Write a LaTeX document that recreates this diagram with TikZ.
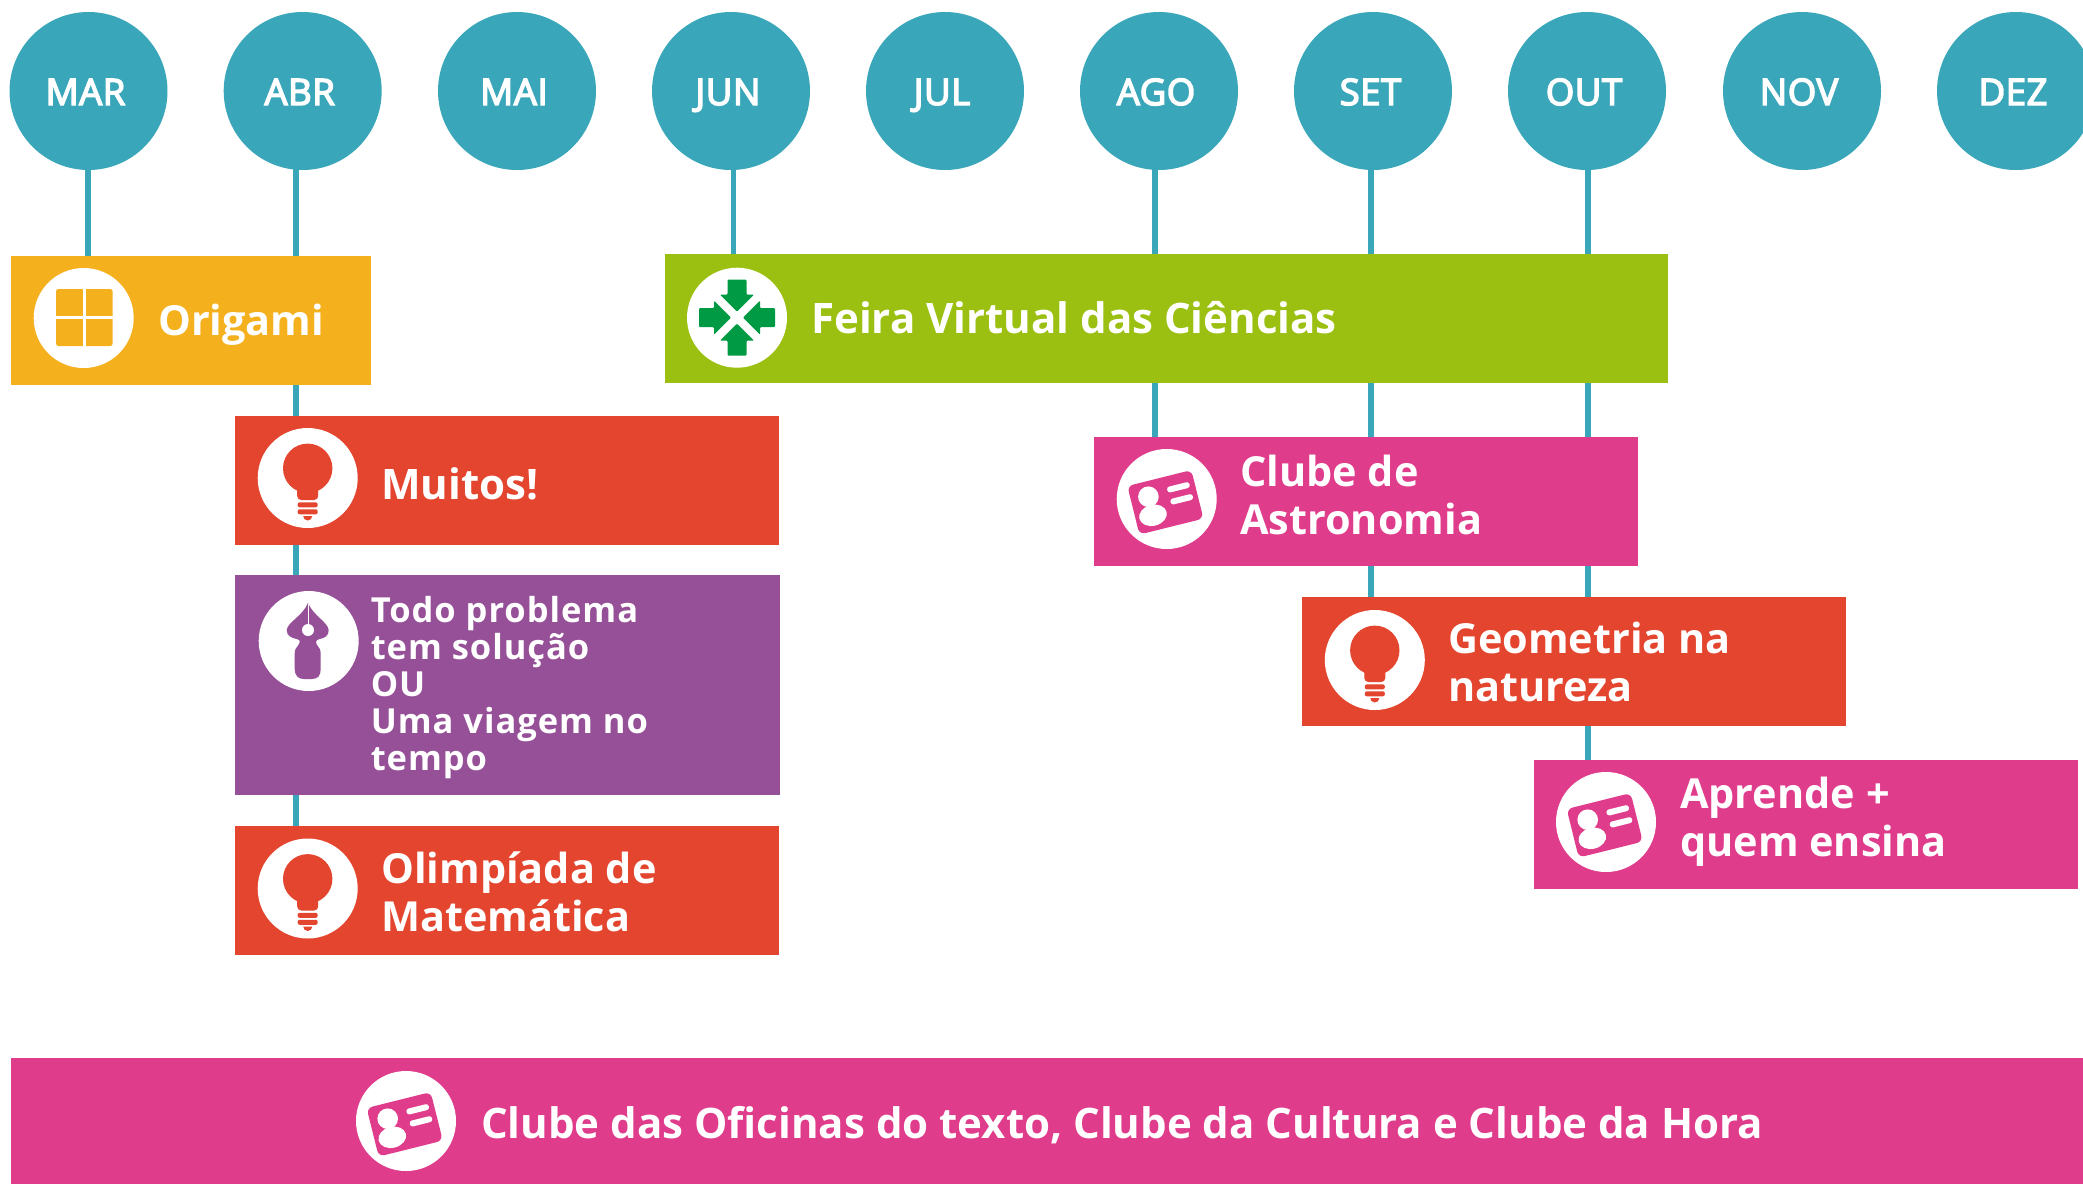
\documentclass[tikz,border=0pt]{standalone}
\usepackage{fontspec}
\setmainfont{Open Sans}
\newfontfamily\monthfont{Open Sans}[LetterSpace=1.5,FakeBold=4]
\newfontfamily\smallfont{Open Sans}[LetterSpace=2.8]
\usetikzlibrary{backgrounds}
\definecolor{teal}{HTML}{3AA6B9}
\definecolor{orangeb}{HTML}{F5B01E}
\definecolor{redb}{HTML}{E3452E}
\definecolor{purpleb}{HTML}{955097}
\definecolor{greenb}{HTML}{9BC011}
\definecolor{pinkb}{HTML}{E03C8C}
\definecolor{greeni}{HTML}{009A44}
\tikzset{
  month/.style={circle,fill=teal,minimum size=158pt,inner sep=0pt},
  monthtxt/.style={text=white,font=\monthfont\fontsize{36.5}{36.5}\selectfont,anchor=base,inner sep=0pt},
  bar/.style={rectangle,minimum width=#1,inner sep=0pt,outer sep=0pt,anchor=north west},
  iconbg/.style={circle,fill=white,minimum size=100pt,inner sep=0pt},
  lab/.style={text=white,font=\bfseries\fontsize{42}{48}\selectfont,align=left,anchor=west,inner sep=0pt},
  labtwo/.style={lab,font=\bfseries\fontsize{41.4}{48}\selectfont},
  smalllab/.style={text=white,font=\smallfont\bfseries\fontsize{34.5}{37.1}\selectfont,align=left,anchor=north west,inner sep=0pt},
  conn/.style={draw=teal,line width=5.5pt},
  origamiicon/.pic={
    \fill[orangeb,rounded corners=2.5pt] (-27.7,-29) rectangle (29,28);
    \fill[white] (-0.7,-30) rectangle (2.3,29);
    \fill[white] (-28,-2.5) rectangle (30,0.5);
  },
  bulbicon/.pic={
    \fill[redb] (0,-9.7) circle (24.7pt);
    \fill[redb,rounded corners=4pt] (-10.5,5) -- (-10.5,22) -- (10.5,22) -- (10.5,5) -- cycle;
    \fill[redb,rounded corners=2pt] (-10,24.3) rectangle (10,29.3);
    \fill[redb,rounded corners=2pt] (-10,31.3) rectangle (10,36.3);
    \fill[redb] (-4.5,38) -- (4.5,38) arc[start angle=0,end angle=-180,radius=4.5pt] -- cycle;
  },
  nibicon/.pic={
    \fill[purpleb] (-0.7,-38) .. controls (-6,-25) and (-21,-19) .. (-22,-11)
      .. controls (-22,-5) and (-17,-3) .. (-12,-2)
      .. controls (-7,-1) and (-9,2) .. (-11,5)
      .. controls (-13,7) and (-14,9) .. (-14,12) -- (-14,28)
      .. controls (-14,35) and (-10,38) .. (-5,38) -- (3,38)
      .. controls (9,38) and (12,35) .. (12,28) -- (12,12)
      .. controls (12,9) and (11,7) .. (9,5)
      .. controls (7,2) and (6,-1) .. (11,-2)
      .. controls (16,-3) and (20,-5) .. (20,-11)
      .. controls (19,-19) and (5,-25) .. (-0.7,-38) -- cycle;
    \fill[white] (-0.7,-11) circle (6pt);
    \fill[white] (-1.2,-37) rectangle (-0.2,-12);
  },
  arrowicon/.pic={
    \foreach \a in {0,90,180,270}{
      \fill[greeni,rotate=\a,rounded corners=1pt] (-9.5,-38) -- (9.5,-38) -- (9.5,-23) -- (17,-23) -- (0,-6) -- (-17,-23) -- (-9.5,-23) -- cycle;
    }
  },
  cardicon/.pic={
    \begin{scope}[shift={(-1.3,3.3)},rotate=14]
      \fill[pinkb,rounded corners=6pt] (-33,-25) rectangle (33,25);
    \end{scope}
    \fill[white] (-18.3,-2.3) circle (10.3pt);
    \begin{scope}[shift={(-13.7,16.3)},rotate=14]
      \fill[white] (0,0) ellipse (14pt and 10.5pt);
    \end{scope}
    \begin{scope}[shift={(11.7,-11.7)},rotate=14]
      \fill[white,rounded corners=2.7pt] (-11.5,-3) rectangle (11.5,3);
    \end{scope}
    \begin{scope}[shift={(15,0.3)},rotate=14]
      \fill[white,rounded corners=2.7pt] (-11.5,-3) rectangle (11.5,3);
    \end{scope}
  },
}
\begin{document}
\begin{tikzpicture}[x=1pt,y=-1pt]
\clip (0,0) rectangle (2083,1184);
% months
\node[month] (m1) at (88.5,91) {};
\node[month] (m2) at (302.7,91) {};
\node[month] (m3) at (517,91) {};
\node[month] (m4) at (731,91) {};
\node[month] (m5) at (945,91) {};
\node[month] (m6) at (1159,91) {};
\node[month] (m7) at (1373,91) {};
\node[month] (m8) at (1587,91) {};
\node[month] (m9) at (1802,91) {};
\node[month] (m10) at (2016,91) {};
\node[monthtxt] (t1) at (85.5,105) {MAR};
\node[monthtxt] (t2) at (299.7,105) {ABR};
\node[monthtxt] (t3) at (514,105) {MAI};
\node[monthtxt] (t4) at (728,105) {JUN};
\node[monthtxt] (t5) at (942,105) {JUL};
\node[monthtxt] (t6) at (1156,105) {AGO};
\node[monthtxt] (t7) at (1370.5,105) {SET};
\node[monthtxt] (t8) at (1584,105) {OUT};
\node[monthtxt] (t9) at (1799,105) {NOV};
\node[monthtxt] (t10) at (2013,105) {DEZ};
% boxes
\node[bar=360pt,fill=orangeb,minimum height=129pt] (origami) at (11,256) {};
\node[bar=544pt,fill=redb,minimum height=129pt] (muitos) at (235,416) {};
\node[bar=545pt,fill=purpleb,minimum height=220pt] (todo) at (235,575) {};
\node[bar=544pt,fill=redb,minimum height=129pt] (olimp) at (235,826) {};
\node[bar=1003pt,fill=greenb,minimum height=129pt] (feira) at (665,254) {};
\node[bar=544pt,fill=pinkb,minimum height=129pt] (astro) at (1094,437) {};
\node[bar=544pt,fill=redb,minimum height=129pt] (geo) at (1302,597) {};
\node[bar=544pt,fill=pinkb,minimum height=129pt] (aprende) at (1534,760) {};
\node[bar=2072pt,fill=pinkb,minimum height=126pt] (clubes) at (11,1058) {};
% connectors
\coordinate (xa) at (88,0);
\coordinate (xb) at (296,0);
\coordinate (xc) at (733.5,0);
\coordinate (xd) at (1155,0);
\coordinate (xe) at (1371,0);
\coordinate (xf) at (1588,0);
\begin{scope}[on background layer]
\draw[conn] (m1.center -| xa) -- (origami.north -| xa);
\draw[conn] (m2.center -| xb) -- (origami.north -| xb);
\draw[conn] (origami.south -| xb) -- (muitos.north -| xb);
\draw[conn] (muitos.south -| xb) -- (todo.north -| xb);
\draw[conn] (todo.south -| xb) -- (olimp.north -| xb);
\draw[conn] (m4.center -| xc) -- (feira.north -| xc);
\draw[conn] (m6.center -| xd) -- (feira.north -| xd);
\draw[conn] (feira.south -| xd) -- (astro.north -| xd);
\draw[conn] (m7.center -| xe) -- (feira.north -| xe);
\draw[conn] (feira.south -| xe) -- (astro.north -| xe);
\draw[conn] (astro.south -| xe) -- (geo.north -| xe);
\draw[conn] (m8.center -| xf) -- (feira.north -| xf);
\draw[conn] (feira.south -| xf) -- (astro.north -| xf);
\draw[conn] (astro.south -| xf) -- (geo.north -| xf);
\draw[conn] (geo.south -| xf) -- (aprende.north -| xf);
\end{scope}
% icons
\node[iconbg] (i1) at (83.7,318) {}; \pic at (i1) {origamiicon};
\node[iconbg] (i2) at (307.7,478) {}; \pic at (i2) {bulbicon};
\node[iconbg] (i3) at (308.7,641) {}; \pic at (i3) {nibicon};
\node[iconbg] (i4) at (307.7,888.5) {}; \pic at (i4) {bulbicon};
\node[iconbg] (i5) at (737,317.7) {}; \pic at (i5) {arrowicon};
\node[iconbg] (i6) at (1166.7,499) {}; \pic at (i6) {cardicon};
\node[iconbg] (i7) at (1374.8,660) {}; \pic at (i7) {bulbicon};
\node[iconbg] (i8) at (1606,822) {}; \pic at (i8) {cardicon};
\node[iconbg] (i9) at (406,1121) {}; \pic at (i9) {cardicon};
% labels
\node[labtwo] (l1) at (158,325) {Origami};
\node[lab] (l2) at (381,484) {Muitos!};
\node[smalllab] (l3) at (370.6,596) {Todo problema\\tem solução\\OU\\Uma viagem no\\tempo};
\node[labtwo] (l4) at (381,892) {Olimpíada de\\Matemática};
\node[lab] (l5) at (811,317.5) {Feira Virtual das Ciências};
\node[labtwo] (l6) at (1240,494.5) {Clube de\\Astronomia};
\node[labtwo] (l7) at (1448,662) {Geometria na\\natureza};
\node[labtwo] (l8) at (1680,822) {Aprende +\\quem ensina};
\node[lab] (l9) at (481,1125) {Clube das Oficinas do texto, Clube da Cultura e Clube da Hora};
\end{tikzpicture}
\end{document}
